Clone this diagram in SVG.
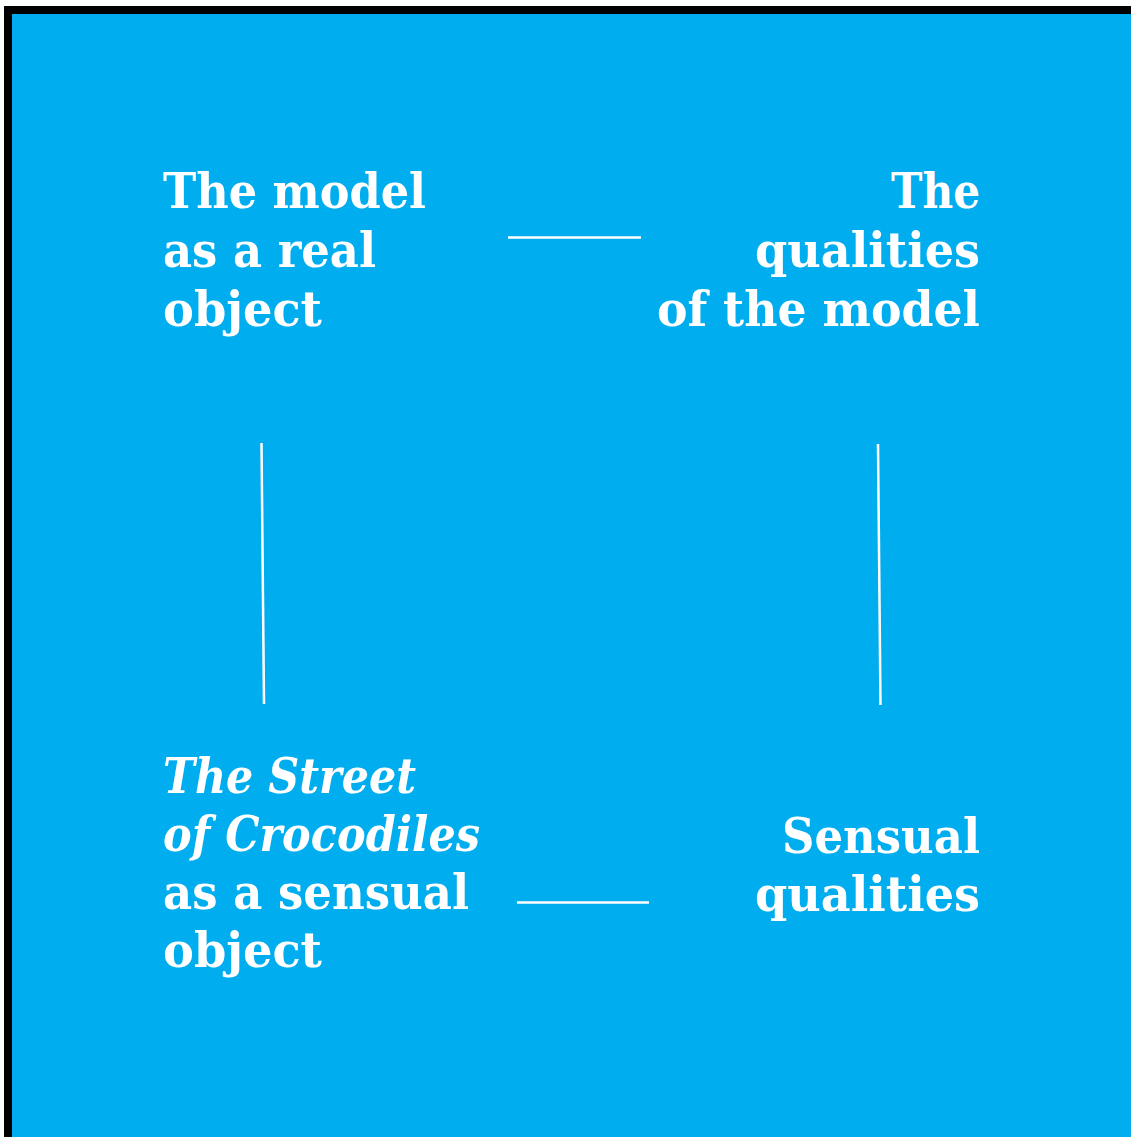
<svg xmlns="http://www.w3.org/2000/svg" width="1131" height="1137" viewBox="0 0 1131 1137">
  <style>
    .lbl { fill: #ffffff; font-family: "DejaVu Serif Condensed", "DejaVu Serif", "Liberation Serif", serif; font-stretch: condensed; font-weight: bold; font-size: 49px; }
    .it { font-style: italic; }
    .end { text-anchor: end; }
    .link { stroke: #ffffff; stroke-width: 2.5; fill: none; }
  </style>

  <!-- page and frame -->
  <rect x="0" y="0" width="1131" height="1137" fill="#ffffff"/>
  <rect x="4" y="6" width="1127" height="1131" fill="#000000"/>
  <rect x="12" y="14" width="1119" height="1123" fill="#00ADEE"/>

  <!-- connectors -->
  <g id="connectors">
    <line class="link" x1="508" y1="237.5" x2="641" y2="237.5"/>
    <line class="link" x1="261.5" y1="443" x2="264" y2="704"/>
    <line class="link" x1="878" y1="444" x2="880.5" y2="705"/>
    <line class="link" x1="517" y1="902.5" x2="649" y2="902.5"/>
  </g>

  <!-- real object -->
  <g id="real-object">
    <text class="lbl" x="163" y="208" textLength="263" lengthAdjust="spacingAndGlyphs">The model</text>
    <text class="lbl" x="163" y="267" textLength="213" lengthAdjust="spacingAndGlyphs">as a real</text>
    <text class="lbl" x="163" y="326" textLength="159" lengthAdjust="spacingAndGlyphs">object</text>
  </g>

  <!-- real qualities -->
  <g id="real-qualities">
    <text class="lbl end" x="980" y="208" textLength="89" lengthAdjust="spacingAndGlyphs">The</text>
    <text class="lbl end" x="980" y="267" textLength="225" lengthAdjust="spacingAndGlyphs">qualities</text>
    <text class="lbl end" x="980" y="326" textLength="323" lengthAdjust="spacingAndGlyphs">of the model</text>
  </g>

  <!-- sensual object -->
  <g id="sensual-object">
    <text class="lbl it" x="163" y="793" textLength="253" lengthAdjust="spacingAndGlyphs">The Street</text>
    <text class="lbl it" x="163" y="851" textLength="317" lengthAdjust="spacingAndGlyphs">of Crocodiles</text>
    <text class="lbl" x="163" y="909" textLength="306" lengthAdjust="spacingAndGlyphs">as a sensual</text>
    <text class="lbl" x="163" y="967" textLength="159" lengthAdjust="spacingAndGlyphs">object</text>
  </g>

  <!-- sensual qualities -->
  <g id="sensual-qualities">
    <text class="lbl end" x="980" y="853" textLength="198" lengthAdjust="spacingAndGlyphs">Sensual</text>
    <text class="lbl end" x="980" y="911" textLength="225" lengthAdjust="spacingAndGlyphs">qualities</text>
  </g>
</svg>
